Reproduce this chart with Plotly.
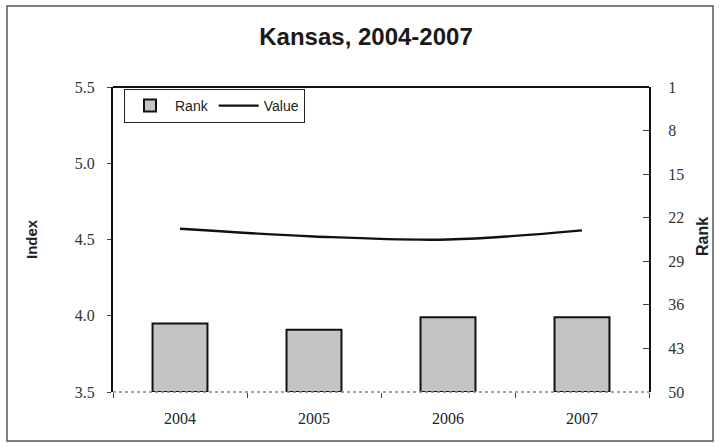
import plotly.graph_objects as go

years = ["2004", "2005", "2006", "2007"]
rank = [39, 40, 38, 38]
value = [4.57, 4.52, 4.50, 4.56]
index_ticks = [3.5, 4.0, 4.5, 5.0, 5.5]
rank_ticks = [1, 8, 15, 22, 29, 36, 43, 50]

W, H = 720, 447
L, R, T, B = 113, 71, 87, 55
PW, PH = W - L - R, H - T - B

def px(x):
    return (x - L) / PW

def py(y):
    return (H - B - y) / PH

serif = "Liberation Serif, 'Times New Roman', Times, serif"
sans = "Liberation Sans, Arial, sans-serif"

fig = go.Figure()
fig.add_trace(go.Bar(
    x=years, y=[r - 50 for r in rank], base=50, name="Rank", yaxis="y2",
    marker=dict(color="#c4c4c4", line=dict(color="#111111", width=2)),
    width=0.41,
))
fig.add_trace(go.Scatter(
    x=years, y=value, name="Value", mode="lines",
    line=dict(color="#111111", width=2.4, shape="spline", smoothing=1.0),
))

fig.update_layout(
    width=W, height=H,
    margin=dict(l=L, r=R, t=T, b=B),
    paper_bgcolor="white", plot_bgcolor="white",
    showlegend=True,
    legend=dict(
        orientation="h", x=px(124), y=py(89), xanchor="left", yanchor="top",
        bgcolor="white", bordercolor="#222222", borderwidth=1,
        font=dict(family=sans, size=14, color="#222222"),
        traceorder="normal", itemwidth=40,
    ),
    title=dict(text="<b>Kansas, 2004-2007</b>", x=366 / W, xanchor="center",
               y=1 - 37 / H, yanchor="middle", yref="container",
               font=dict(family=sans, size=24, color="#1a1a1a")),
    xaxis=dict(
        type="category", showgrid=False, showline=False, zeroline=False,
        ticks="outside", tickson="boundaries", ticklen=5, tickcolor="#444444",
        ticklabelstandoff=15,
        tickfont=dict(family=serif, size=16, color="#222222"),
    ),
    yaxis=dict(
        range=[3.5, 5.5], tickvals=index_ticks,
        ticktext=[f"{v:.1f}" for v in index_ticks],
        showgrid=False, zeroline=False, showline=True, linecolor="#111111",
        linewidth=2, ticks="outside", ticklen=4, tickcolor="#444444",
        ticklabelstandoff=9,
        tickfont=dict(family=serif, size=16, color="#333333"),
    ),
    yaxis2=dict(
        range=[50, 1], tickvals=rank_ticks, overlaying="y", side="right",
        showgrid=False, zeroline=False, showline=True, linecolor="#111111",
        linewidth=2, ticks="inside", ticklen=6, tickcolor="#444444",
        ticklabelstandoff=14,
        tickfont=dict(family=serif, size=16, color="#333333"),
    ),
    bargap=0.59,
)

shapes = [
    dict(type="line", xref="paper", yref="paper", x0=0, x1=1, y0=1, y1=1,
         line=dict(color="#111111", width=2)),
    dict(type="line", xref="paper", yref="paper", x0=0, x1=1, y0=0, y1=0,
         line=dict(color="#888888", width=1.5, dash="dot")),
    dict(type="rect", xref="paper", yref="paper",
         x0=px(7), x1=px(713), y0=py(441), y1=py(6),
         line=dict(color="#555555", width=1.5)),
]
fig.update_layout(shapes=shapes)

fig.add_annotation(text="<b>Index</b>", x=px(31), y=py(239), xref="paper", yref="paper",
                   xanchor="center", yanchor="middle",
                   textangle=-90, showarrow=False,
                   font=dict(family=sans, size=15, color="#222222"))
fig.add_annotation(text="<b>Rank</b>", x=px(702), y=py(237), xref="paper", yref="paper",
                   xanchor="center", yanchor="middle",
                   textangle=-90, showarrow=False,
                   font=dict(family=sans, size=16, color="#222222"))

fig.write_html("out.html")
